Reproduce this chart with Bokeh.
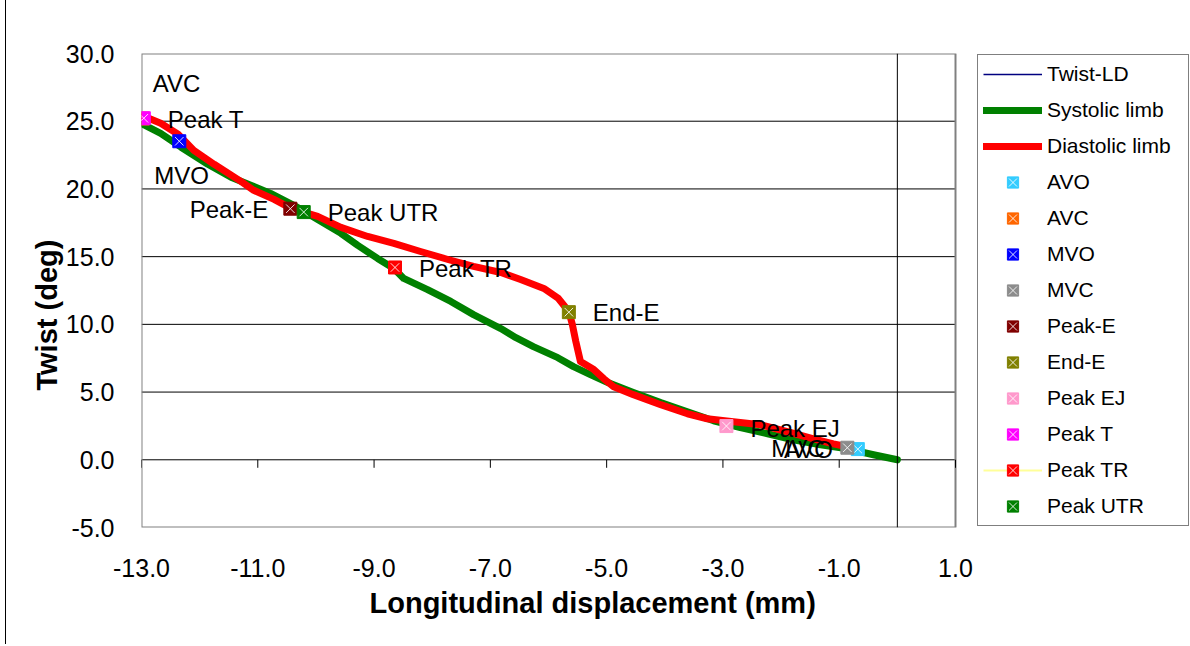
from bokeh.plotting import figure
from bokeh.models import (ColumnDataSource, FixedTicker, NumeralTickFormatter, Span,
                          Legend, LegendItem, Range1d, Title)
from bokeh.core.properties import value
from bokeh.embed import file_html
from bokeh.resources import INLINE

# ---------------- data ----------------
systolic_x = [-12.98, -12.67, -12.32, -11.86, -11.46, -11.12, -10.78, -10.38, -9.97, -9.57,
              -9.28, -8.94, -8.66, -8.49, -8.08, -7.68, -7.29, -6.82, -6.56, -6.26,
              -5.84, -5.57, -5.28, -4.98, -4.54, -4.07, -3.61, -3.16, -2.70, -2.23,
              -1.79, -1.32, -0.86, -0.41, 0.00]
systolic_y = [24.78, 24.11, 23.08, 21.82, 20.86, 20.27, 19.67, 18.79, 17.75, 16.72,
              15.83, 14.87, 14.13, 13.39, 12.57, 11.69, 10.72, 9.69, 9.02, 8.36,
              7.54, 6.88, 6.29, 5.70, 4.96, 4.22, 3.55, 2.88, 2.37, 1.92,
              1.48, 1.11, 0.81, 0.37, 0.00]

diastolic_x = [-12.96, -12.67, -12.37, -12.10, -11.75, -11.29, -11.07, -10.72, -10.43, -9.97,
               -9.57, -9.11, -8.66, -8.20, -7.73, -7.29, -6.82, -6.48, -6.08, -5.83,
               -5.65, -5.59, -5.53, -5.45, -5.22, -5.05, -4.88, -4.54, -4.07, -3.61,
               -3.27, -2.82, -2.35, -1.89, -1.44, -1.10, -0.86]
diastolic_y = [25.37, 24.85, 24.04, 22.85, 21.82, 20.56, 19.90, 19.23, 18.57, 17.97,
               17.16, 16.49, 15.98, 15.38, 14.79, 14.28, 13.83, 13.31, 12.65, 11.91,
               10.95, 9.99, 8.73, 7.25, 6.66, 5.99, 5.40, 4.81, 4.07, 3.40,
               3.03, 2.81, 2.59, 2.07, 1.55, 1.18, 0.96]

event_names = ["AVO", "AVC", "MVO", "MVC", "Peak-E", "End-E", "Peak EJ", "Peak T", "Peak TR", "Peak UTR"]
event_x = [-0.68, -12.98, -12.35, -0.86, -10.44, -5.65, -2.94, -12.96, -8.64, -10.21]
event_y = [0.79, 25.20, 23.52, 0.89, 18.54, 10.90, 2.49, 25.22, 14.20, 18.29]

x_ticks = [-13, -11, -9, -7, -5, -3, -1, 1]
y_ticks = [-5, 0, 5, 10, 15, 20, 25, 30]
grid_ticks = [0, 5, 10, 15, 20, 25]
X_MIN, X_MAX = -13, 1
Y_MIN, Y_MAX = -5, 30

# ---------------- styles / layout ----------------
event_colors = {"AVO": "#33CCFF", "AVC": "#FF6600", "MVO": "#0000FF", "MVC": "#8C8C8C",
                "Peak-E": "#800000", "End-E": "#808000", "Peak EJ": "#FF99CC",
                "Peak T": "#FF00FF", "Peak TR": "#FF0000", "Peak UTR": "#008000"}
# label offsets in screen pixels (dx, dy, align)
label_layout = {"AVO": (-25, 0, "right"), "AVC": (10, -35, "left"), "MVO": (-25, 34, "left"),
                "MVC": (-76, 1, "left"), "Peak-E": (-22, 1, "right"), "End-E": (24, 0, "left"),
                "Peak EJ": (24, 2, "left"), "Peak T": (24, 1, "left"), "Peak TR": (24, 1, "left"),
                "Peak UTR": (24, 0, "left")}

FONT = "Liberation Sans"
W, H = 1190, 644
PLOT_L, PLOT_R, PLOT_T, PLOT_B = 141, 955, 53, 527      # plot-area box, page pixels
px_per_x = (PLOT_R - PLOT_L) / (X_MAX - X_MIN)
px_per_y = (PLOT_B - PLOT_T) / (Y_MAX - Y_MIN)
X_EXT = X_MAX + (W - PLOT_R) / px_per_x   # extra room on the right for the legend

p = figure(width=W, height=H, x_range=Range1d(X_MIN, X_EXT), y_range=Range1d(Y_MIN, Y_MAX),
           output_backend="svg", toolbar_location=None,
           min_border_left=PLOT_L, min_border_right=0,
           min_border_top=PLOT_T, min_border_bottom=H - PLOT_B)
p.background_fill_color = "white"
p.border_fill_color = None
p.outline_line_color = None
p.styles = {"background": "linear-gradient(to right, #ffffff 0px, #ffffff 5px, #000000 5px, "
                          "#000000 6px, #ffffff 6px, #ffffff 100%)"}

# axes
p.xaxis.ticker = FixedTicker(ticks=x_ticks)
p.xaxis.formatter = NumeralTickFormatter(format="0.0")
p.yaxis.ticker = FixedTicker(ticks=y_ticks)
p.yaxis.formatter = NumeralTickFormatter(format="0.0")
for ax in (p.xaxis[0], p.yaxis[0]):
    ax.axis_line_color = None
    ax.major_tick_line_color = None
    ax.minor_tick_line_color = None
    ax.major_tick_out = 0
    ax.major_tick_in = 0
    ax.minor_tick_out = 0
    ax.major_label_text_font = FONT
    ax.major_label_text_font_size = "25px"
    ax.major_label_text_color = "black"
p.xaxis.major_label_standoff = 31
p.yaxis.major_label_standoff = 27

p.add_layout(Title(text="Longitudinal displacement (mm)", align="left", offset=369 - PLOT_L,
                   text_font=FONT, text_font_size="29px", text_font_style="bold",
                   text_color="black", standoff=11), "below")
p.add_layout(Title(text="Twist (deg)", align="left", offset=PLOT_B - 390,
                   text_font=FONT, text_font_size="29px", text_font_style="bold",
                   text_color="black", standoff=0), "left")

p.xgrid.visible = False
p.ygrid.visible = False
# horizontal grid lines limited to the plot area
p.segment(x0=[X_MIN] * len(grid_ticks), x1=[X_MAX] * len(grid_ticks),
          y0=grid_ticks, y1=grid_ticks, line_color="black", line_width=1)
# plot-area border
p.quad(left=[X_MIN], right=[X_MAX], bottom=[Y_MIN], top=[Y_MAX],
       fill_color=None, line_color="#808080", line_width=2)

# vertical axis line at x = 0 and tick marks on horizontal axis at y = 0
p.add_layout(Span(location=0, dimension="height", line_color="black", line_width=1))
tick_len = 8.0 / px_per_y
p.segment(x0=x_ticks, y0=[0] * len(x_ticks), x1=x_ticks, y1=[-tick_len] * len(x_ticks),
          line_color="black", line_width=1)

# series
twist_r = p.line(systolic_x + diastolic_x[::-1], systolic_y + diastolic_y[::-1],
                 line_color="#000080", line_width=1.5)
sys_r = p.line(systolic_x, systolic_y, line_color="#008000", line_width=7,
               line_cap="round", line_join="round")
dia_r = p.line(diastolic_x, diastolic_y, line_color="#FF0000", line_width=7,
               line_cap="round", line_join="round")

items = [LegendItem(label="Twist-LD", renderers=[twist_r]),
         LegendItem(label="Systolic limb", renderers=[sys_r]),
         LegendItem(label="Diastolic limb", renderers=[dia_r])]

for name, ex, ey in zip(event_names, event_x, event_y):
    c = event_colors[name]
    rends = []
    if name == "Peak TR":
        rends.append(p.line([ex], [ey], line_color="#FFFF99", line_width=2))
    rends.append(p.scatter([ex], [ey], marker="square", size=13, fill_color=c, line_color=c))
    rends.append(p.scatter([ex], [ey], marker="x", size=12, line_color="white",
                           line_width=1, line_alpha=0.85))
    items.append(LegendItem(label=name, renderers=rends))

# data labels
lab_src = ColumnDataSource(dict(
    x=event_x, y=event_y, text=event_names,
    dx=[label_layout[n][0] for n in event_names],
    dy=[label_layout[n][1] for n in event_names],
    align=[label_layout[n][2] for n in event_names]))
p.text(x="x", y="y", text="text", x_offset="dx", y_offset="dy", text_align="align",
       text_baseline="middle", text_font=value(FONT), text_font_size="24px",
       text_color="black", source=lab_src)

legend = Legend(items=items, location=(977 - PLOT_L, 1))
legend.label_text_font = FONT
legend.label_text_font_size = "21px"
legend.label_text_color = "black"
legend.glyph_width = 59
legend.glyph_height = 28
legend.label_height = 28
legend.label_width = 136
legend.spacing = 8
legend.padding = 5
legend.label_standoff = 5
legend.margin = 0
legend.border_line_color = "black"
legend.border_line_width = 1
legend.background_fill_color = "white"
legend.background_fill_alpha = 1
p.add_layout(legend, "center")

open("out.html", "w").write(file_html(p, INLINE))
